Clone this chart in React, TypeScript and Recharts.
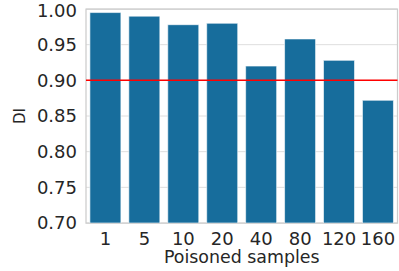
import React from "react";
import { BarChart, Bar, XAxis, YAxis, CartesianGrid, ReferenceLine, ReferenceArea } from "recharts";

const categories = ["1", "5", "10", "20", "40", "80", "120", "160"];
const diValues = [0.995, 0.99, 0.978, 0.98, 0.92, 0.958, 0.928, 0.872];
const yTicks = [0.7, 0.75, 0.8, 0.85, 0.9, 0.95, 1.0];
const threshold = 0.9;

const data = categories.map((c, i) => ({ samples: c, di: diValues[i] }));

const FONT = "'DejaVu Sans', sans-serif";
const TXT = "#262626";

export default function App() {
  return (
    <div style={{ width: 399, height: 271 }}>
      <style>{`body{margin:0}`}</style>
      <BarChart
        width={399}
        height={271}
        data={data}
        margin={{ top: 9, right: 1.5, bottom: 0, left: 0 }}
        barCategoryGap="10%"
      >
        <CartesianGrid vertical={false} stroke="#dedede" strokeWidth={1} />
        <XAxis
          dataKey="samples"
          interval={0}
          height={48}
          tickLine={false}
          axisLine={false}
          tickSize={0}
          tickMargin={9}
          tick={{ fontSize: 18, fill: TXT, fontFamily: FONT }}
          label={(props: any) => {
            const vb = props.viewBox;
            return (
              <text
                x={vb.x + vb.width / 2}
                y={263}
                textAnchor="middle"
                fontSize={17.4}
                fill={TXT}
                fontFamily={FONT}
              >
                Poisoned samples
              </text>
            );
          }}
        />
        <YAxis
          domain={[0.7, 1.0]}
          ticks={yTicks}
          allowDataOverflow
          width={86}
          tickLine={false}
          axisLine={false}
          tickSize={0}
          tickMargin={9}
          tickFormatter={(v: number) => v.toFixed(2)}
          tick={{ fontSize: 18, fill: TXT, fontFamily: FONT }}
          label={(props: any) => {
            const vb = props.viewBox;
            const cy = vb.y + vb.height / 2;
            return (
              <text
                x={20.3}
                y={cy}
                transform={`rotate(-90 20.3 ${cy})`}
                textAnchor="middle"
                dominantBaseline="central"
                fontSize={15}
                fill={TXT}
                fontFamily={FONT}
              >
                DI
              </text>
            );
          }}
        />
        <Bar
          dataKey="di"
          fill="#176d9c"
          stroke="#ffffff"
          strokeOpacity={0.6}
          strokeWidth={1}
          isAnimationActive={false}
        />
        <ReferenceLine y={threshold} stroke="#ff0000" strokeWidth={1.5} />
        <ReferenceArea y1={0.7} y2={1.0} fill="none" stroke="#cccccc" strokeWidth={1.25} fillOpacity={0} />
      </BarChart>
    </div>
  );
}
